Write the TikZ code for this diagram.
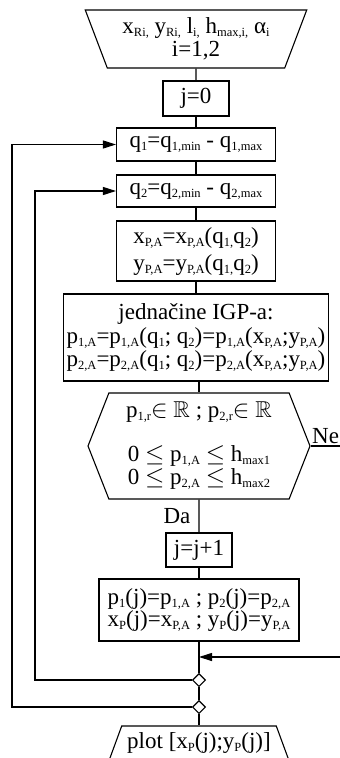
\documentclass[tikz,border=0pt]{standalone}
\usepackage{fontspec}
\usepackage{amssymb}
\setmainfont{Liberation Serif}
\usetikzlibrary{shapes.geometric,shapes.symbols,arrows.meta}
\newcommand{\lo}[1]{\raisebox{-3pt}{\fontsize{12.5}{12.5}\selectfont #1}}

\begin{document}
\begin{tikzpicture}[x=1pt, y=-1pt, line width=1.1pt,
  every node/.style={font=\fontsize{23}{23.5}\selectfont, align=center, inner sep=0pt},
  box/.style={draw, rectangle},
  arr/.style={-{Triangle[length=13pt,width=8pt]}},
  junction/.style={draw, diamond, fill=white, minimum size=13pt}]
\useasboundingbox (0,0) rectangle (340,758);

\node[draw, trapezium, trapezium stretches=true, shape border rotate=180, trapezium left angle=67, trapezium right angle=67, minimum width=222, minimum height=58] (inp) at (196,39)
{x\lo{Ri,} y\lo{Ri,} l\lo{i,} h\lo{max,i,} α\lo{i}\\i=1,2};
\node[box, minimum width=66, minimum height=35] (j0) at (196,98.5) {j=0};
\node[box, minimum width=159, minimum height=33] (q1) at (196,144.5) {q\lo{1}=q\lo{1,min} - q\lo{1,max}};
\node[box, minimum width=159, minimum height=32] (q2) at (196,191) {q\lo{2}=q\lo{2,min} - q\lo{2,max}};
\node[box, minimum width=159, minimum height=60, font=\fontsize{23}{27}\selectfont] (xy) at (196,251)
{x\lo{P,A}=x\lo{P,A}(q\lo{1,}q\lo{2})\\y\lo{P,A}=y\lo{P,A}(q\lo{1,}q\lo{2})};
\node[box, minimum width=265, minimum height=87] (igp) at (196,337.5)
{jednačine IGP-a:\\p\lo{1,A}=p\lo{1,A}(q\lo{1}; q\lo{2})=p\lo{1,A}(x\lo{P,A};y\lo{P,A})\\p\lo{2,A}=p\lo{2,A}(q\lo{1}; q\lo{2})=p\lo{2,A}(x\lo{P,A};y\lo{P,A})};
\node[draw, signal, signal to=east and west, signal pointer angle=137, minimum width=222, minimum height=106] (cond) at (199,446)
{p\lo{1,r}$\in$ $\mathbb{R}$ ; p\lo{2,r}$\in$ $\mathbb{R}$\\[20pt]0 $\leq$ p\lo{1,A} $\leq$ h\lo{max1}\\0 $\leq$ p\lo{2,A} $\leq$ h\lo{max2}};
\node[box, minimum width=66, minimum height=34] (jinc) at (199,550) {j=j+1};
\node[box, minimum width=200, minimum height=62, font=\fontsize{23}{22.5}\selectfont] (res) at (199,610)
{p\lo{1}(j)=p\lo{1,A} ; p\lo{2}(j)=p\lo{2,A}\\x\lo{P}(j)=x\lo{P,A} ; y\lo{P}(j)=y\lo{P,A}};
\node[junction] (d1) at (199,680) {};
\node[junction] (d2) at (199,707) {};
\node[draw, trapezium, trapezium stretches=true, trapezium left angle=61, trapezium right angle=61, minimum width=180, minimum height=34] (out) at (199,743)
{plot [x\lo{P}(j);y\lo{P}(j)]};

\coordinate (neEnd) at (345,446);
\coordinate (retIn) at (345,657);
\coordinate (lp1) at (12,0);
\coordinate (lp2) at (35,0);

\draw (inp) -- (j0);
\draw (j0) -- (q1);
\draw (q1) -- (q2);
\draw (q2) -- (xy);
\draw (xy) -- (igp);
\draw (igp.south -| cond.north) -- (cond.north);
\draw (cond.east) -- node[pos=0, anchor=south west, xshift=1pt, yshift=2pt]{Ne} (neEnd);
\draw (cond) -- node[left=8pt]{Da} (jinc);
\draw (jinc) -- (res);
\draw (res) -- (d1);
\draw (d1) -- (d2);
\draw (d2) -- (out);
\draw[arr] (retIn) -- (retIn -| res.south);
\draw[arr] (d1) -| (q2.west -| lp2) -- (q2);
\draw[arr] (d2) -| (q1.west -| lp1) -- (q1);
\end{tikzpicture}
\end{document}
